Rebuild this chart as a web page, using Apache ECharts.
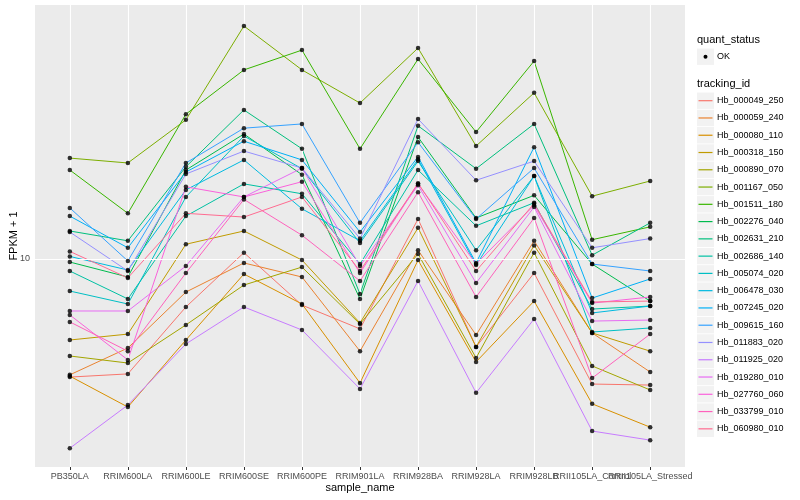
<!DOCTYPE html>
<html><head><meta charset="utf-8">
<script src="https://cdn.jsdelivr.net/npm/echarts@6/dist/echarts.min.js"></script>
<style>html,body{margin:0;padding:0;background:#fff}#c{width:800px;height:500px}</style>
</head><body><div id="c"></div>
<script>
const categories = ['PB350LA','RRIM600LA','RRIM600LE','RRIM600SE','RRIM600PE','RRIM901LA','RRIM928BA','RRIM928LA','RRIM928LB','RRII105LA_Control','RRII105LA_Stressed'];
const trackingIds = ['Hb_000049_250','Hb_000059_240','Hb_000080_110','Hb_000318_150','Hb_000890_070','Hb_001167_050','Hb_001511_180','Hb_002276_040','Hb_002631_210','Hb_002686_140','Hb_005074_020','Hb_006478_030','Hb_007245_020','Hb_009615_160','Hb_011883_020','Hb_011925_020','Hb_019280_010','Hb_027760_060','Hb_033799_010','Hb_060980_010'];
const colors = ['#F8766D','#EA8331','#D89000','#C09B00','#A3A500','#7CAE00','#39B600','#00BB4E','#00BF7D','#00C1A3','#00BFC4','#00BAE0','#00B0F6','#35A2FF','#9590FF','#C77CFF','#E76BF3','#FA62DB','#FF62BC','#FF6C91'];
const yTicks = [10];

// FPKM + 1 per sample (order of categories)
const Hb_000049_250 = [4.04, 4.14, 6.92, 10.5, 7.02, 5.85, 13.6, 5.09, 8.98, 3.83, 3.80];
const Hb_000059_240 = [4.11, 5.05, 7.76, 9.70, 8.71, 4.93, 10.7, 5.58, 11.5, 5.67, 4.20];
const Hb_000080_110 = [4.07, 3.21, 5.37, 8.91, 7.08, 3.86, 9.92, 4.54, 7.24, 3.29, 2.75];
const Hb_000318_150 = [5.37, 5.62, 11.2, 12.4, 9.92, 6.12, 12.7, 5.09, 11.1, 5.67, 4.93];
const Hb_000890_070 = [4.75, 4.50, 6.03, 8.19, 9.40, 6.07, 10.4, 4.68, 10.5, 4.40, 3.66];
const Hb_001167_050 = [21.7, 20.9, 29.1, 59.8, 42.7, 33.1, 50.5, 23.8, 35.8, 16.2, 18.2];
const Hb_001511_180 = [19.8, 14.2, 30.4, 42.7, 49.7, 23.3, 46.4, 26.5, 45.7, 11.6, 12.8];
const Hb_002276_040 = [9.77, 8.71, 19.8, 26.1, 19.1, 7.36, 25.5, 13.7, 16.3, 9.62, 7.24];
const Hb_002631_210 = [12.4, 11.5, 20.3, 31.4, 23.3, 7.64, 27.8, 20.0, 28.2, 10.3, 13.2];
const Hb_002686_140 = [9.12, 7.36, 13.9, 17.8, 16.5, 9.62, 19.8, 12.9, 15.4, 6.81, 6.97];
const Hb_005074_020 = [7.82, 7.08, 16.1, 25.7, 20.0, 11.3, 21.2, 10.7, 18.9, 5.71, 5.89];
const Hb_006478_030 = [10.2, 9.19, 17.0, 21.4, 14.7, 11.5, 21.5, 9.55, 18.9, 6.61, 6.97];
const Hb_007245_020 = [13.9, 10.9, 19.5, 24.7, 21.4, 12.3, 21.9, 9.70, 23.6, 7.41, 8.58];
const Hb_009615_160 = [14.8, 9.85, 20.9, 27.3, 28.2, 13.2, 24.5, 13.6, 20.1, 9.62, 9.12];
const Hb_011883_020 = [12.3, 9.12, 19.2, 22.9, 20.1, 11.7, 29.3, 18.3, 21.2, 10.9, 11.7];
const Hb_011925_020 = [2.34, 3.26, 5.21, 6.92, 5.80, 3.69, 8.45, 3.58, 6.31, 2.67, 2.49];
const Hb_019280_010 = [6.71, 6.71, 9.48, 16.1, 20.1, 9.48, 17.6, 8.32, 14.9, 6.21, 6.26];
const Hb_027760_060 = [6.51, 4.61, 17.4, 16.1, 18.1, 8.98, 17.8, 9.62, 15.1, 7.13, 7.47];
const Hb_033799_010 = [6.17, 4.93, 8.98, 15.8, 12.0, 8.45, 16.7, 7.47, 13.7, 4.01, 5.62];
const Hb_060980_010 = [10.6, 8.65, 14.2, 13.8, 16.1, 9.12, 17.9, 9.12, 15.3, 7.19, 7.24];

const rows = [Hb_000049_250,Hb_000059_240,Hb_000080_110,Hb_000318_150,Hb_000890_070,Hb_001167_050,Hb_001511_180,Hb_002276_040,Hb_002631_210,Hb_002686_140,Hb_005074_020,Hb_006478_030,Hb_007245_020,Hb_009615_160,Hb_011883_020,Hb_011925_020,Hb_019280_010,Hb_027760_060,Hb_033799_010,Hb_060980_010];

const FONT = 'Liberation Sans, Arial, sans-serif';
const catIdx = categories.map((c, j) => j);
const oddIdx = catIdx.filter(j => j % 2 === 1);
const evenIdx = catIdx.filter(j => j % 2 === 0);

const series = [];
// white major grid lines
series.push({
  type: 'line', data: [[0, 10]], showSymbol: false, silent: true, z: 1,
  lineStyle: { opacity: 0 },
  markLine: {
    silent: true, symbol: ['none', 'none'], label: { show: false }, animation: false,
    lineStyle: { color: '#FFFFFF', width: 1.1, type: 'solid' },
    data: catIdx.map(j => ({ xAxis: j })).concat(yTicks.map(v => ({ yAxis: v })))
  }
});
rows.forEach((r, i) => {
  series.push({
    type: 'line', name: trackingIds[i], data: r.map((v, j) => [j, v]),
    showSymbol: false, symbol: 'none', silent: true, z: 3,
    lineStyle: { color: colors[i], width: 1 }, itemStyle: { color: colors[i] }
  });
});
const pts = [];
rows.forEach(r => r.forEach((v, j) => pts.push([j, v])));
series.push({ type: 'scatter', data: pts, symbol: 'circle', symbolSize: 4.5, itemStyle: { color: '#000' }, z: 5, silent: true });

// legend drawn as graphic
const graphics = [];
const LX = 697, L0 = 100.7, LS = 17.27;
graphics.push({ type: 'text', left: LX, top: 34, style: { text: 'quant_status', font: '11px ' + FONT, fill: '#000' } });
graphics.push({ type: 'rect', shape: { x: LX, y: 48.5, width: 17, height: 16.4 }, style: { fill: '#F2F2F2' } });
graphics.push({ type: 'circle', shape: { cx: LX + 8.5, cy: 56.7, r: 2 }, style: { fill: '#000' } });
graphics.push({ type: 'text', x: LX + 20, y: 56.7, style: { text: 'OK', font: '9px ' + FONT, fill: '#000', verticalAlign: 'middle' } });
graphics.push({ type: 'text', left: LX, top: 78, style: { text: 'tracking_id', font: '11px ' + FONT, fill: '#000' } });
trackingIds.forEach((id, i) => {
  const cy = L0 + i * LS;
  graphics.push({ type: 'rect', shape: { x: LX, y: cy - 8.2, width: 17, height: 16.4 }, style: { fill: '#F2F2F2' } });
  graphics.push({ type: 'line', shape: { x1: LX + 1.5, y1: cy, x2: LX + 15.5, y2: cy }, style: { stroke: colors[i], lineWidth: 1.2 } });
  graphics.push({ type: 'text', x: LX + 20, y: cy, style: { text: id, font: '9px ' + FONT, fill: '#000', verticalAlign: 'middle' } });
});
// axis titles
graphics.push({ type: 'text', x: 360, y: 488, style: { text: 'sample_name', font: '11px ' + FONT, fill: '#000', align: 'center', verticalAlign: 'middle' } });
graphics.push({ type: 'text', x: 14, y: 236, rotation: Math.PI / 2, style: { text: 'FPKM + 1', font: '11px ' + FONT, fill: '#000', align: 'center', verticalAlign: 'middle' } });

function xAxisDef(labelIdx, showTick) {
  return {
    type: 'value', min: -0.6, max: 10.6, position: 'bottom', offset: 0,
    splitLine: { show: false }, axisLine: { show: false },
    axisTick: { show: showTick, customValues: catIdx, length: 3, lineStyle: { color: '#333333', width: 1 } },
    axisLabel: { customValues: labelIdx, interval: 0, hideOverlap: false, showMinLabel: true, showMaxLabel: true,
      formatter: v => categories[Math.round(v)] || '', fontSize: 9, fontFamily: FONT, color: '#4D4D4D', margin: 5 }
  };
}

const chart = echarts.init(document.getElementById('c'), null, { renderer: 'canvas' });
chart.setOption({
  animation: false,
  backgroundColor: '#FFFFFF',
  grid: { left: 35, right: 115, top: 5, bottom: 33, show: true, backgroundColor: '#EBEBEB', borderWidth: 0 },
  xAxis: [xAxisDef(evenIdx, true), xAxisDef(oddIdx, false)],
  yAxis: {
    type: 'log', logBase: 10, min: 2.026, max: 70.27,
    splitLine: { show: false }, axisLine: { show: false }, minorTick: { show: false },
    axisTick: { show: true, customValues: yTicks, length: 3, lineStyle: { color: '#333333', width: 1 } },
    axisLabel: { customValues: yTicks, formatter: v => String(Math.round(v)), fontSize: 9, fontFamily: FONT, color: '#4D4D4D', margin: 5 }
  },
  series: series,
  graphic: graphics
});
</script></body></html>
